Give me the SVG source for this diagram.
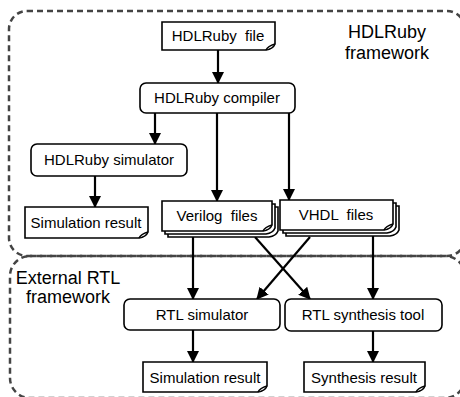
<svg xmlns="http://www.w3.org/2000/svg" width="460" height="397" viewBox="0 0 460 397">
  <style>
    .frame { fill: none; stroke: #444; stroke-width: 2.5; stroke-dasharray: 6 4; }
    .box { fill: #fff; stroke: #000; stroke-width: 1.6; }
    .label { font-family: "Liberation Sans", Arial, sans-serif; font-size: 15px; fill: #000; text-anchor: middle; white-space: pre; }
    .title { font-family: "Liberation Sans", Arial, sans-serif; font-size: 18px; fill: #000; text-anchor: middle; }
    .conn { fill: none; stroke: #000; stroke-width: 2.2; }
  </style>
  <defs>
    <marker id="arrow" viewBox="0 0 12 12" refX="11" refY="6" markerWidth="12" markerHeight="12" markerUnits="userSpaceOnUse" orient="auto">
      <path d="M0,0 L12,6 L0,12 Z" fill="#000"/>
    </marker>
  </defs>

  <!-- framework boundaries -->
  <g id="hdlruby-framework">
    <rect class="frame" x="9" y="11" width="456" height="245" rx="18"/>
    <text class="title" x="387" y="38">HDLRuby</text>
    <text class="title" x="387" y="59">framework</text>
  </g>
  <g id="external-framework">
    <rect class="frame" x="10" y="256" width="455" height="142" rx="20"/>
    <text class="title" x="68" y="284">External RTL</text>
    <text class="title" x="68" y="303">framework</text>
  </g>

  <!-- connectors -->
  <g id="connectors">
    <line class="conn" x1="218" y1="50" x2="218" y2="83" marker-end="url(#arrow)"/>
    <line class="conn" x1="155" y1="113" x2="155" y2="144" marker-end="url(#arrow)"/>
    <line class="conn" x1="217" y1="113" x2="217" y2="201" marker-end="url(#arrow)"/>
    <line class="conn" x1="289" y1="113" x2="289" y2="200" marker-end="url(#arrow)"/>
    <line class="conn" x1="95" y1="176" x2="95" y2="207" marker-end="url(#arrow)"/>
    <line class="conn" x1="193" y1="231" x2="193" y2="299" marker-end="url(#arrow)"/>
    <line class="conn" x1="373" y1="233" x2="373" y2="299" marker-end="url(#arrow)"/>
    <line class="conn" x1="255" y1="237" x2="310" y2="299" marker-end="url(#arrow)"/>
    <line class="conn" x1="310" y1="237" x2="257" y2="299" marker-end="url(#arrow)"/>
    <line class="conn" x1="193" y1="330" x2="193" y2="362" marker-end="url(#arrow)"/>
    <line class="conn" x1="373" y1="331" x2="373" y2="362" marker-end="url(#arrow)"/>
  </g>

  <!-- nodes -->
  <g id="hdlruby-file">
    <path class="box" d="M162,22 H275 V44 Q273,49 266,50 H162 Z"/>
    <path class="box" d="M266,50 Q268,46 275,44" fill="none"/>
    <text class="label" x="218" y="41">HDLRuby  file</text>
  </g>

  <g id="hdlruby-compiler">
    <rect class="box" x="140" y="83" width="155" height="30" rx="6"/>
    <text class="label" x="217" y="103">HDLRuby compiler</text>
  </g>

  <g id="hdlruby-simulator">
    <rect class="box" x="31" y="144" width="156" height="32" rx="6"/>
    <text class="label" x="109" y="165">HDLRuby simulator</text>
  </g>

  <g id="simulation-result-top">
    <path class="box" d="M25,207 H148 V232 Q146,237 139,238 H25 Z"/>
    <path class="box" d="M139,238 Q141,234 148,232" fill="none"/>
    <text class="label" x="86" y="228">Simulation result</text>
  </g>

  <g id="verilog-files">
    <path class="box" d="M168,207 H278 V231 Q276,236 269,237 H168 Z"/>
    <path class="box" d="M165,204 H275 V228 Q273,233 266,234 H165 Z"/>
    <path class="box" d="M162,201 H272 V225 Q270,230 263,231 H162 Z"/>
    <path class="box" d="M263,231 Q265,227 272,225" fill="none"/>
    <text class="label" x="217" y="221">Verilog  files</text>
  </g>

  <g id="vhdl-files">
    <path class="box" d="M286,206 H399 V230 Q397,235 390,236 H286 Z"/>
    <path class="box" d="M283,203 H396 V227 Q394,232 387,233 H283 Z"/>
    <path class="box" d="M280,200 H393 V224 Q391,229 384,230 H280 Z"/>
    <path class="box" d="M384,230 Q386,226 393,224" fill="none"/>
    <text class="label" x="336" y="220">VHDL  files</text>
  </g>

  <g id="rtl-simulator">
    <rect class="box" x="124" y="299" width="156" height="31" rx="6"/>
    <text class="label" x="202" y="320">RTL simulator</text>
  </g>

  <g id="rtl-synthesis-tool">
    <rect class="box" x="285" y="299" width="157" height="32" rx="6"/>
    <text class="label" x="363" y="320">RTL synthesis tool</text>
  </g>

  <g id="simulation-result-bottom">
    <path class="box" d="M143,362 H267 V386 Q265,391 258,392 H143 Z"/>
    <path class="box" d="M258,392 Q260,388 267,386" fill="none"/>
    <text class="label" x="205" y="383">Simulation result</text>
  </g>

  <g id="synthesis-result">
    <path class="box" d="M304,362 H425 V386 Q423,391 416,392 H304 Z"/>
    <path class="box" d="M416,392 Q418,388 425,386" fill="none"/>
    <text class="label" x="364" y="383">Synthesis result</text>
  </g>
</svg>
